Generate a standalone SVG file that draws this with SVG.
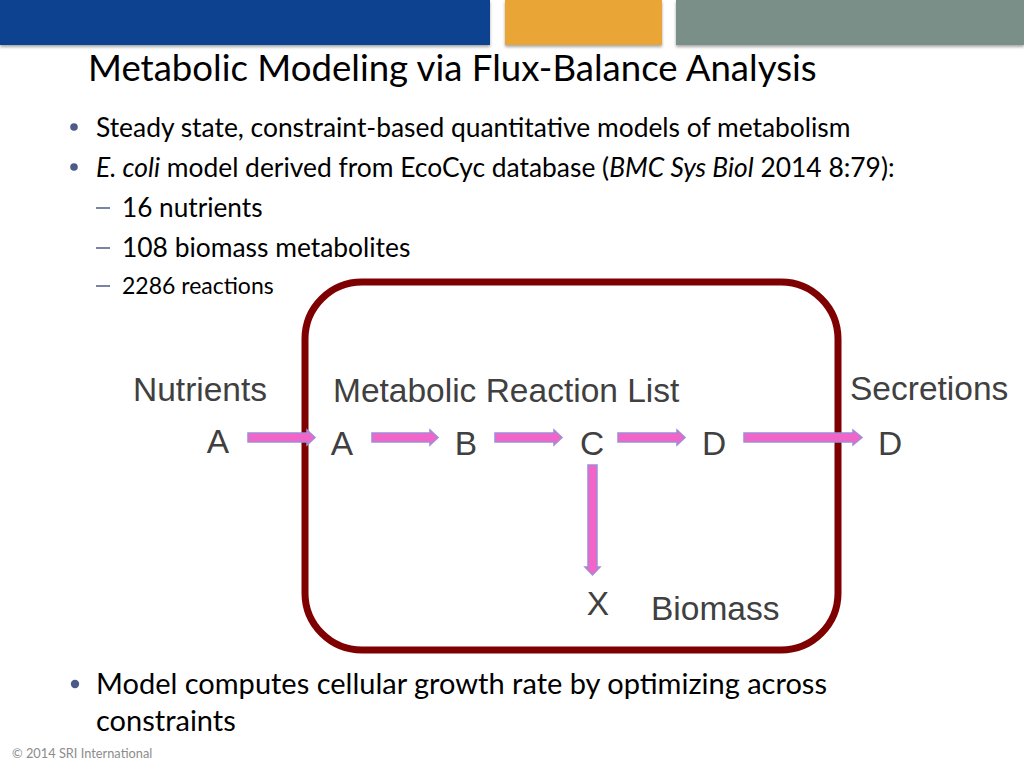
<svg xmlns="http://www.w3.org/2000/svg" width="1024" height="768" viewBox="0 0 1024 768">
<style>
.body{font-family:Lato,"Open Sans",sans-serif;fill:#000}
.lbl{font-family:"Liberation Sans",Arial,sans-serif;fill:#404040;font-size:33.5px}
.arr{fill:#f264c8;stroke:#a08cd8;stroke-width:1.5}
.dot{fill:#4c5a88}
.dash{stroke:#4c5a88;stroke-width:1.5}
</style>
<defs>
<filter id="sh" x="-5%" y="-20%" width="110%" height="160%">
<feDropShadow dx="0" dy="2" stdDeviation="1.5" flood-color="#000" flood-opacity="0.35"/>
</filter>
</defs>
<rect width="1024" height="768" fill="#fff"/>
<g id="header" filter="url(#sh)">
<rect x="0" y="0" width="490" height="45" fill="#0c4290"/>
<rect x="505" y="0" width="157" height="45" fill="#e9a536"/>
<rect x="676" y="0" width="348" height="45" fill="#7a8f88"/>
</g>
<text class="body" x="88" y="81" font-size="36.6">Metabolic Modeling via Flux-Balance Analysis</text>
<g id="bullets">
<circle class="dot" cx="74" cy="127" r="3.8"/>
<text class="body" x="96" y="137" font-size="26.4">Steady state, constraint-based quantitative models of metabolism</text>
<circle class="dot" cx="74" cy="167" r="3.8"/>
<text class="body" x="96" y="177" font-size="26.4"><tspan font-style="italic">E. coli</tspan> model derived from EcoCyc database (<tspan font-style="italic">BMC Sys Biol</tspan> 2014 8:79):</text>
<line class="dash" x1="96" y1="208" x2="110" y2="208"/>
<text class="body" x="122" y="217" font-size="26.2">16 nutrients</text>
<line class="dash" x1="96" y1="248" x2="110" y2="248"/>
<text class="body" x="122" y="257" font-size="26.4">108 biomass metabolites</text>
<line class="dash" x1="96" y1="286" x2="110" y2="286"/>
<text class="body" x="122" y="294" font-size="23">2286 reactions</text>
<circle class="dot" cx="75" cy="684" r="4.2"/>
<text class="body" x="96" y="694" font-size="29">Model computes cellular growth rate by optimizing across</text>
<text class="body" x="96" y="731" font-size="29">constraints</text>
</g>
<text x="12" y="758" font-family="Lato,sans-serif" font-size="12.8" fill="#8c8c8c">© 2014 SRI International</text>
<g id="cell">
<rect x="305" y="282" width="533" height="368" rx="57" ry="57" fill="none" stroke="#7f0000" stroke-width="7"/>
</g>
<g id="labels">
<text class="lbl" x="133" y="401">Nutrients</text>
<text class="lbl" x="333" y="402" font-size="33.8">Metabolic Reaction List</text>
<text class="lbl" x="850" y="400">Secretions</text>
<text class="lbl" x="651" y="620">Biomass</text>
</g>
<g id="nodes" class="lbl" text-anchor="middle">
<text id="nA0" class="lbl" x="218" y="453">A</text>
<text id="nA" class="lbl" x="342" y="455">A</text>
<text id="nB" class="lbl" x="466" y="455">B</text>
<text id="nC" class="lbl" x="592" y="455">C</text>
<text id="nD" class="lbl" x="714" y="455">D</text>
<text id="nD2" class="lbl" x="890" y="455">D</text>
<text id="nX" class="lbl" x="598" y="615">X</text>
</g>
<g id="connectors">
<path class="arr" d="M248 433 H307 V430 L315 437.5 L307 445 V442 H248 Z"/>
<path class="arr" d="M372 433 H430 V430 L438 437.5 L430 445 V442 H372 Z"/>
<path class="arr" d="M495 433 H554 V430 L562 437.5 L554 445 V442 H495 Z"/>
<path class="arr" d="M618 433 H677 V430 L685 437.5 L677 445 V442 H618 Z"/>
<path class="arr" d="M744 433 H853 V430 L862 437.5 L853 445 V442 H744 Z"/>
<path class="arr" d="M588 465 V567 H585 L592.5 575 L600 567 H597 V465 Z"/>
</g>
</svg>
